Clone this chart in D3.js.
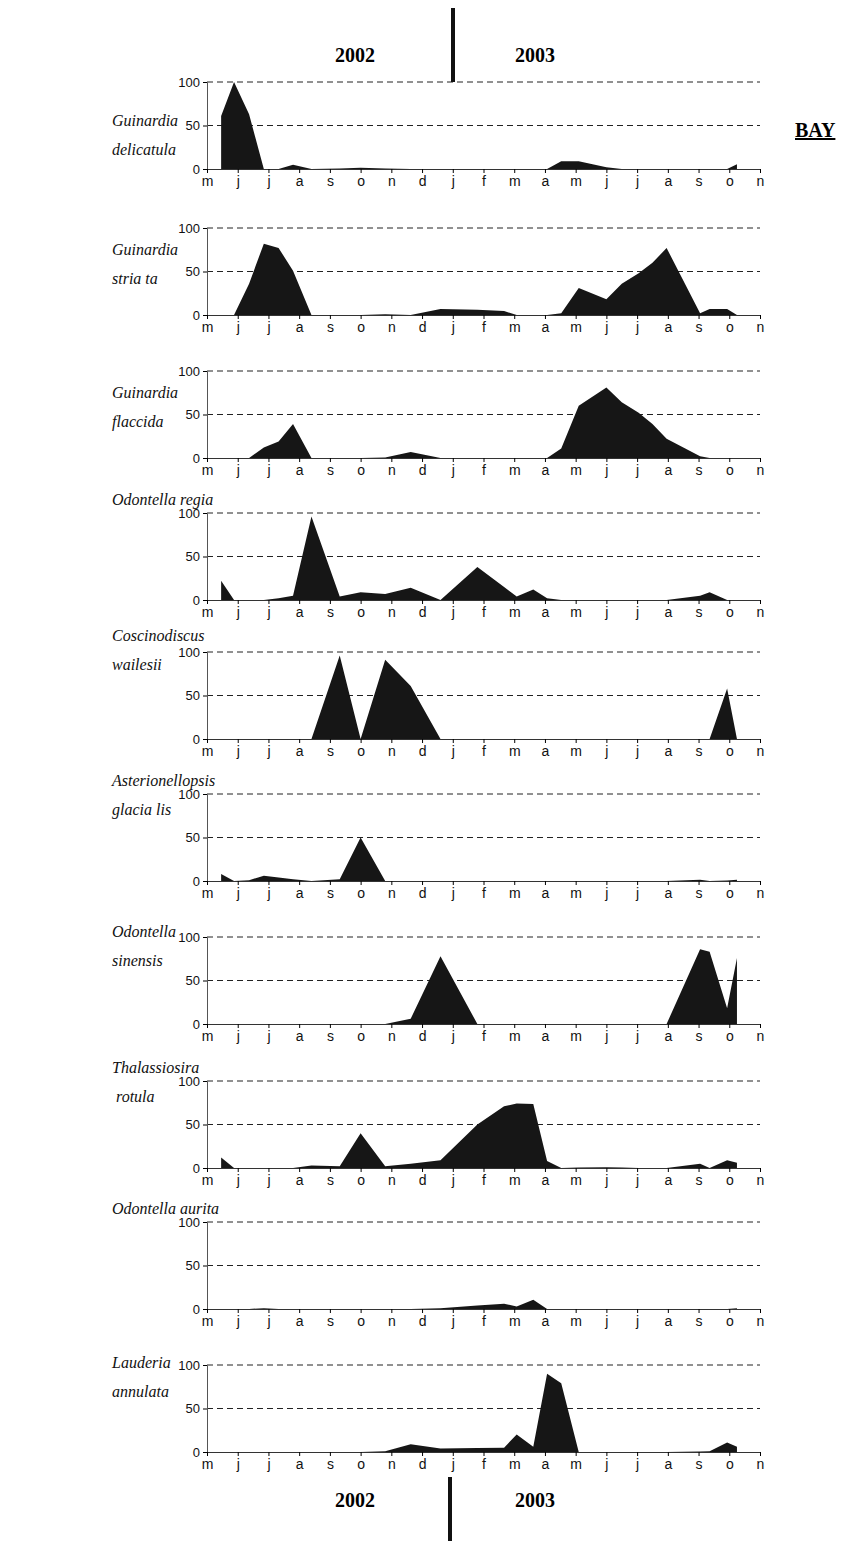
<!DOCTYPE html>
<html>
<head>
<meta charset="utf-8">
<script src="https://cdn.jsdelivr.net/npm/d3@7"></script>
<style>
  body { margin: 0; background: #fff; }
  .tick text { font-family: "Liberation Sans Narrow", "Liberation Sans", Arial, sans-serif; }
</style>
</head>
<body>
<div id="chart"></div>
<script>
// Month labels, May 2002 .. Nov 2003
const monthLabels = ['m','j','j','a','s','o','n','d','j','f','m','a','m','j','j','a','s','o','n'];

// sampling dates, in months from 1 May 2002
const sampleMonths = [0.46, 0.88, 1.37, 1.85, 2.33, 2.8, 3.4, 4.32, 5.0, 5.8, 6.63, 7.6, 8.8, 9.67,
                      10.08, 10.62, 11.07, 11.53, 12.1, 13.0, 13.5, 14.05, 14.5, 14.96, 16.05, 16.36, 16.93, 17.25];

// relative abundance (%) per species at each sampling date
const delicatula  = [61, 100, 63, 0, 0, 5, 0, 0.5, 1.5, 0.5, 0, 0, 0, 0, 0, 0, 0, 9, 9, 2, 0, 0, 0, 0, 0, 0, 0, 5.5];
const striata     = [0, 0, 36, 82, 77, 51, 0, 0, 0, 1, 0, 7, 6, 4.5, 0, 0, 0, 2, 31, 18, 36, 48, 60, 77, 2, 7, 7, 0];
const flaccida    = [0, 0, 0, 12, 19, 39, 0, 0, 0, 0.5, 7, 0, 0, 0, 0, 0, 0, 11, 60, 81, 64, 52, 39, 22, 2, 0, 0, 0];
const regia       = [22, 0, 0, 0, 2, 5, 96, 4, 9, 7, 14, 0, 38, 15, 4, 12, 2, 0, 0, 0, 0, 0, 0, 0, 5, 9, 0, 0];
const wailesii    = [0, 0, 0, 0, 0, 0, 0, 96, 0, 91, 61, 0, 0, 0, 0, 0, 0, 0, 0, 0, 0, 0, 0, 0, 0, 0, 58, 0];
const glacialis   = [8, 0, 1, 6, 4, 2, 0, 2, 50, 0, 0, 0, 0, 0, 0, 0, 0, 0, 0, 0, 0, 0, 0, 0, 1.5, 0, 0.5, 1.5];
const sinensis    = [0, 0, 0, 0, 0, 0, 0, 0, 0, 0, 6, 78, 0, 0, 0, 0, 0, 0, 0, 0, 0, 0, 0, 0, 86, 83, 18, 76];
const rotula      = [12, 0, 0, 0, 0, 0, 3, 2, 40, 2, 5, 9, 50, 71, 74, 73.5, 8, 0, 0.5, 1, 0.5, 0, 0, 0, 5, 0, 9, 6];
const aurita      = [0, 0, 0, 1, 0, 0, 0, 0, 0, 0, 0, 1, 4, 6, 3, 10.5, 0, 0, 0, 0, 0, 0, 0, 0, 0, 0, 0, 1];
const annulata    = [0, 0, 0, 0, 0, 0, 0, 0, 0, 1, 9, 4, 4.5, 5, 20, 6, 90, 79, 0, 0, 0, 0, 0, 0, 0.5, 1, 11, 6];

const speciesNames = [
  ['Guinardia', 'delicatula'],
  ['Guinardia', 'stria ta'],
  ['Guinardia', 'flaccida'],
  ['Odontella regia'],
  ['Coscinodiscus', 'wailesii'],
  ['Asterionellopsis', 'glacia lis'],
  ['Odontella', 'sinensis'],
  ['Thalassiosira', ' rotula'],
  ['Odontella aurita'],
  ['Lauderia', 'annulata']
];
const speciesValues = [delicatula, striata, flaccida, regia, wailesii, glacialis, sinensis, rotula, aurita, annulata];
const yTicks = [0, 50, 100];

// layout
const width = 861;
const height = 1545;
const plotLeft = 207;
const plotRight = 760;
const plotH = 87;
const panelTop = [82, 228, 371, 513, 652, 794, 937, 1081, 1222, 1365];
const labelTop = [126, 255, 398, 505, 641, 786, 937, 1073, 1214, 1368];

const svg = d3.select("#chart")
  .append("svg")
  .attr("width", width)
  .attr("height", height);

const x = d3.scaleLinear()
  .domain([0, 18])
  .range([plotLeft, plotRight]);

speciesValues.forEach((vals, p) => {
  const top = panelTop[p];
  const y = d3.scaleLinear()
    .domain([0, 100])
    .range([top + plotH, top]);

  const g = svg.append("g");

  // dashed grid at 50 and 100
  g.selectAll(".grid")
    .data([50, 100])
    .enter()
    .append("line")
      .attr("x1", plotLeft)
      .attr("x2", plotRight)
      .attr("y1", d => y(d))
      .attr("y2", d => y(d))
      .attr("stroke", "#222")
      .attr("stroke-width", 1)
      .attr("stroke-dasharray", "6,4");

  // filled area
  const pts = sampleMonths.map((m, i) => ({m: m, v: vals[i]}));
  const area = d3.area()
    .x(d => x(d.m))
    .y0(y(0))
    .y1(d => y(d.v));
  g.append("path")
    .datum(pts)
    .attr("d", area)
    .attr("fill", "#161616");

  // axes
  const yAxis = g.append("g")
    .attr("transform", `translate(${plotLeft},0)`)
    .call(d3.axisLeft(y).tickValues(yTicks).tickSize(4).tickPadding(3));
  yAxis.select(".domain").attr("stroke", "#555");
  yAxis.selectAll("text").attr("font-size", "13px").attr("fill", "#111");

  const xAxis = g.append("g")
    .attr("transform", `translate(0,${y(0)})`)
    .call(d3.axisBottom(x).tickValues(d3.range(19)).tickSize(4).tickSizeOuter(0).tickPadding(3)
      .tickFormat(i => monthLabels[i]));
  xAxis.select(".domain").attr("stroke", "#333");
  xAxis.selectAll("text").attr("font-size", "14px").attr("fill", "#111");

  // species label
  speciesNames[p].forEach((line, k) => {
    svg.append("text")
      .attr("x", 112)
      .attr("y", labelTop[p] + k * 29)
      .attr("font-family", "Liberation Serif, Times New Roman, serif")
      .attr("font-style", "italic")
      .attr("font-size", "16px")
      .attr("fill", "#111")
      .attr("xml:space", "preserve")
      .style("white-space", "pre")
      .text(line);
  });
});

// year labels and dividers, top and bottom
const yearFont = "Liberation Serif, Times New Roman, serif";
[{y: 62, barX: 453, barY1: 8, barY2: 82}, {y: 1507, barX: 450, barY1: 1477, barY2: 1541}].forEach(b => {
  svg.append("text").attr("x", 355).attr("y", b.y).attr("text-anchor", "middle")
    .attr("font-family", yearFont).attr("font-weight", "bold").attr("font-size", "20px")
    .text("2002");
  svg.append("text").attr("x", 535).attr("y", b.y).attr("text-anchor", "middle")
    .attr("font-family", yearFont).attr("font-weight", "bold").attr("font-size", "20px")
    .text("2003");
  svg.append("rect")
    .attr("x", b.barX - 2)
    .attr("y", b.barY1)
    .attr("width", 4)
    .attr("height", b.barY2 - b.barY1)
    .attr("fill", "#111");
});

// site label
svg.append("text")
  .attr("x", 795)
  .attr("y", 137)
  .attr("font-family", yearFont)
  .attr("font-weight", "bold")
  .attr("font-size", "20px")
  .attr("text-decoration", "underline")
  .text("BAY");
</script>
</body>
</html>
